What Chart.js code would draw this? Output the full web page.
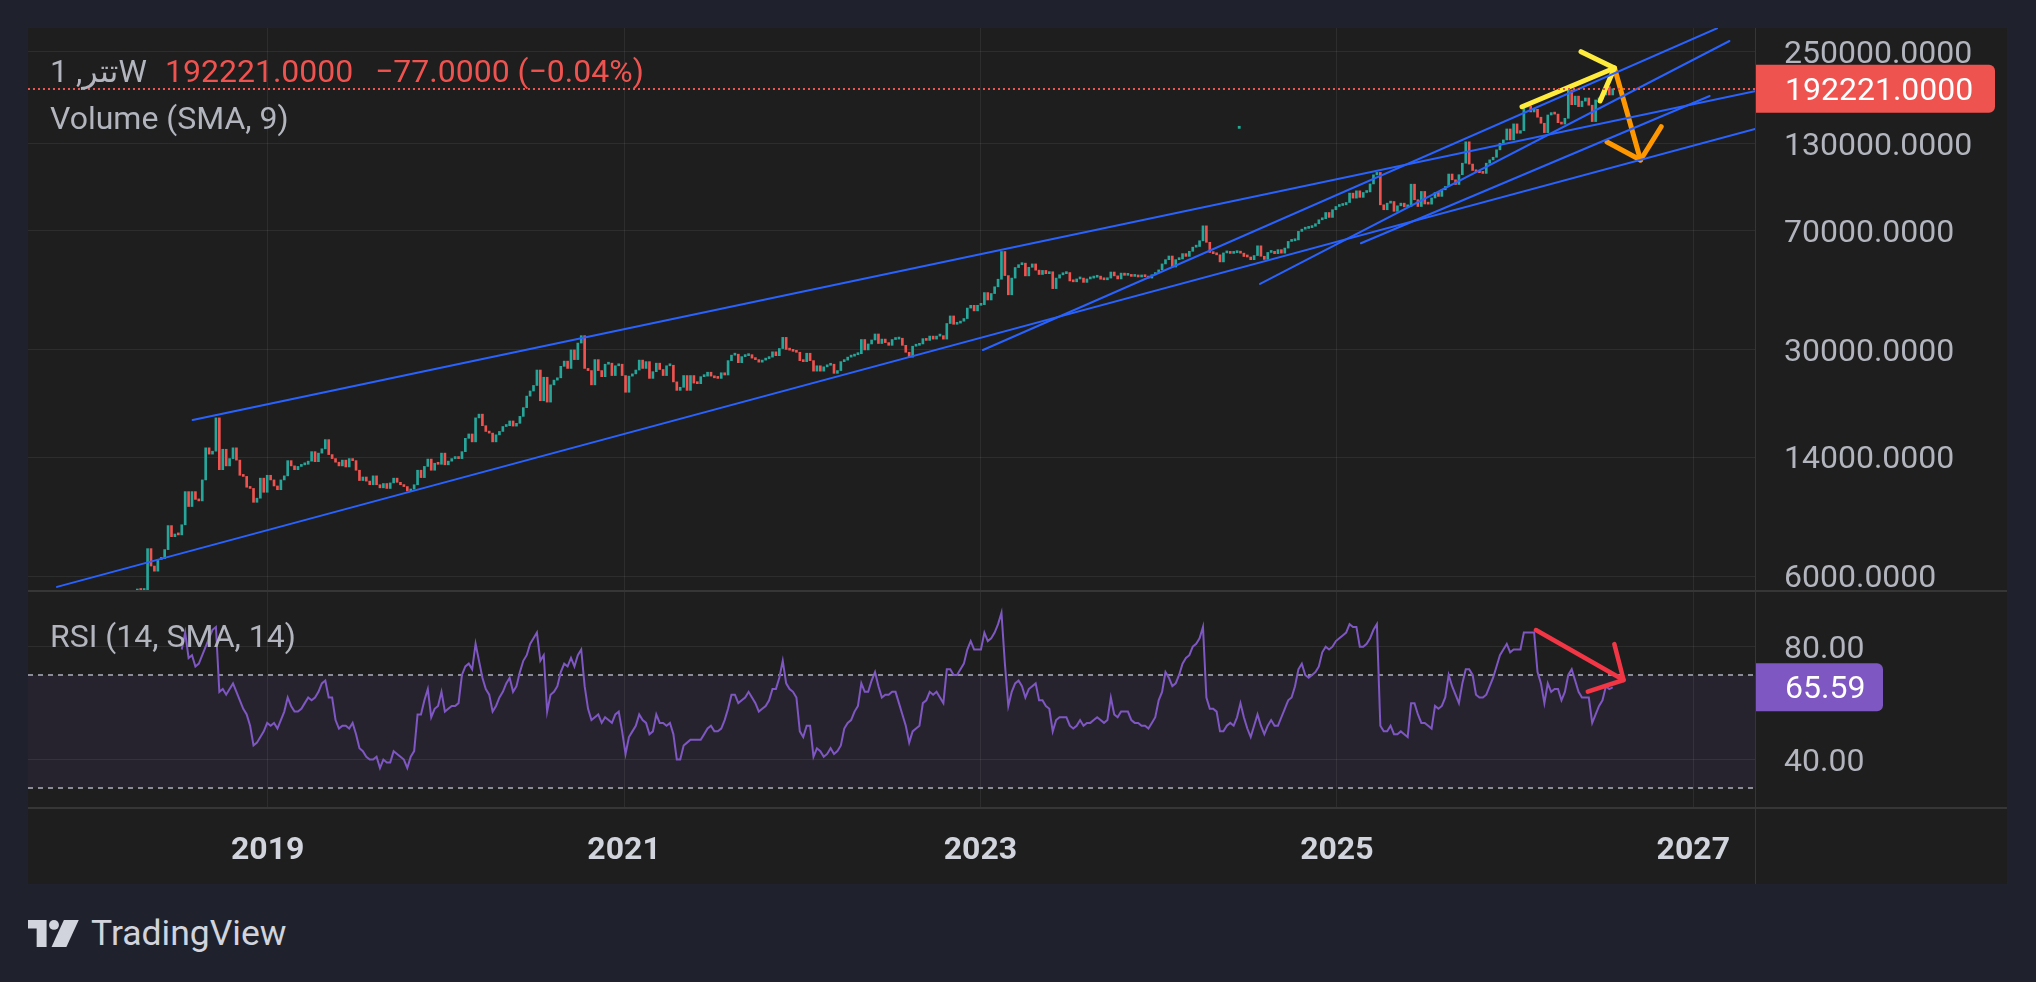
<!DOCTYPE html>
<html>
<head>
<meta charset="utf-8">
<title>تتر, 1W</title>
<script src="https://cdn.jsdelivr.net/npm/chart.js@4.4.1/dist/chart.umd.min.js"></script>
<style>
  html, body { margin: 0; padding: 0; }
  body { width: 2036px; height: 982px; background: #1f222d; overflow: hidden; position: relative; font-family: Roboto, "DejaVu Sans", sans-serif; }
  #panel { position: absolute; left: 28px; top: 28px; width: 1979px; height: 856px; background: #1e1e1e; }
  #mainChart { position: absolute; left: 0; top: 0; }
  #rsiChart { position: absolute; left: 0; top: 563px; }
  .sep { position: absolute; background: #363636; }
  .label { position: absolute; font-size: 32px; line-height: 38px; white-space: nowrap; color: #b2b5be; }
  .down { color: #ef5350; }
  #brand { position: absolute; left: 28px; top: 913px; height: 40px; display: flex; align-items: center; gap: 11px; color: #d1d4dc; font-size: 35.5px; line-height: 40px; }
</style>
</head>
<body>
<div id="panel">
  <canvas id="mainChart" width="1979" height="563"></canvas>
  <canvas id="rsiChart" width="1979" height="293"></canvas>
  <div class="sep" style="left:0;top:562px;width:1979px;height:2px"></div>
  <div class="sep" style="left:0;top:779px;width:1979px;height:2px"></div>
  <div class="sep" style="left:1727px;top:0;width:1px;height:856px"></div>
  <div class="label" style="left:22px;top:24px">تتر, 1W</div>
  <div class="label down" style="left:137px;top:24px" id="lastPrice"></div>
  <div class="label down" style="left:347px;top:24px" id="lastChange"></div>
  <div class="label" style="left:22px;top:71px">Volume (SMA, 9)</div>
  <div class="label" style="left:22px;top:589px">RSI (14, SMA, 14)</div>
</div>
<div id="brand">
  <svg width="52" height="27" viewBox="0 0 42 22" preserveAspectRatio="none">
    <path d="M0 0H15V22H7V7H0Z" fill="#d1d4dc"/>
    <circle cx="21" cy="4" r="4" fill="#d1d4dc"/>
    <path d="M29 0H41L31 22H19Z" fill="#d1d4dc"/>
  </svg>
  <span>TradingView</span>
</div>

<script>
// weekly closes, first bar in the week of 9 April 2018
const firstWeekUTC = Date.UTC(2018, 3, 9);
const firstOpen = 5400;
const closes = [
  5450, 5420, 5430, 7300, 6450, 6220, 6760, 6800, 7250, 8600,
  7950, 8100, 8050, 8650, 10950, 9850, 10950, 10360, 10250, 11900,
  14950, 14300, 14600, 18500, 12800, 14800, 13150, 13850, 14950, 13700,
  12300, 12200, 11300, 11200, 10150, 10450, 12050, 10900, 12300, 11900,
  11400, 11100, 11900, 12250, 13650, 13150, 12800, 13100, 13250, 13300,
  13600, 14550, 13550, 14400, 14850, 15850, 14250, 13850, 13500, 13150,
  13700, 13050, 13850, 13650, 12750, 11850, 12150, 11800, 11500, 12250,
  11500, 11250, 11600, 11200, 11650, 12050, 11700, 11500, 11350, 11000,
  11150, 11500, 12750, 12100, 13100, 13800, 12750, 13400, 13300, 14400,
  13250, 13600, 13850, 14000, 13850, 14550, 16000, 16500, 15600, 18500,
  19000, 17500, 16800, 16600, 15600, 16400, 16800, 17400, 17500, 18100,
  17450, 17800, 18700, 19900, 21600, 22400, 23300, 26000, 20900, 24700,
  20700, 23400, 24200, 24600, 26700, 27700, 26300, 30000, 28000, 31500,
  33200, 26300, 25900, 23400, 28000, 25900, 24800, 27100, 27300, 25000,
  26800, 27100, 25000, 22200, 24900, 25300, 26000, 27900, 26300, 27600,
  24500, 25700, 27300, 26100, 25000, 26800, 26900, 23900, 22500, 23000,
  25000, 22500, 25000, 23700, 23600, 24800, 24900, 25600, 24900, 24600,
  24500, 25500, 25100, 27800, 28900, 29100, 27400, 28600, 28800, 29000,
  28300, 28000, 27500, 27900, 28200, 28500, 29600, 28800, 30300, 32800,
  30100, 29950, 29700, 29500, 27800, 27600, 29300, 27800, 25800, 26800,
  25800, 26600, 26900, 27100, 25400, 25900, 27600, 27900, 28500, 28700,
  29000, 29200, 32300, 30000, 31300, 32200, 33600, 31400, 32400, 31600,
  31000, 32300, 32400, 32600, 31000, 29500, 28500, 30800, 31000, 31300,
  32500, 32100, 33100, 32400, 33100, 33200, 32400, 36200, 38200, 36000,
  36300, 36800, 37500, 40400, 41200, 39600, 41200, 41400, 45100, 42800,
  44800, 47000, 49600, 60400, 50900, 44400, 50000, 53900, 55000, 55600,
  50800, 54000, 55300, 52900, 51300, 52800, 51600, 52300, 46400, 50000,
  51200, 51600, 52000, 49000, 48700, 49700, 50000, 48500, 49700, 50000,
  50300, 50700, 49600, 49400, 50000, 52200, 50800, 49700, 51800, 51000,
  51300, 50600, 51000, 50400, 50700, 50500, 50000, 51200, 52000, 53000,
  55300, 57000, 58500, 54100, 57000, 57300, 59500, 58350, 60500, 62300,
  62600, 65200, 72500, 64500, 60000, 59500, 59000, 56100, 59800, 60200,
  59600, 59900, 60300, 59700, 58300, 58100, 57000, 58700, 62900, 58400,
  57100, 60000, 60500, 59500, 61200, 59700, 61900, 64900, 65200, 65600,
  69700, 70800, 71200, 71600, 72300, 73600, 75700, 76300, 79700, 77000,
  81300, 83200, 83800, 84200, 85600, 91500, 88300, 93000, 88800, 91900,
  92300, 97700, 104200, 106000, 84200, 81300, 85200, 86200, 80400, 83600,
  85200, 83000, 83300, 97500, 87300, 83200, 92600, 84700, 84600, 88400,
  91900, 89400, 93700, 95900, 104800, 100600, 97300, 104300, 113200, 131800,
  112500, 107500, 106500, 105800, 105300, 113200, 115900, 118100, 124500, 130500,
  133600, 144400, 133600, 149700, 140100, 142700, 168900, 170000, 163000, 166100,
  157000, 150400, 140700, 159500, 162200, 160500, 151000, 149500, 155800, 190500,
  171600, 182400, 169300, 176000, 180000, 171000, 152200, 177500, 178500, 183900,
  195100, 183900, 192221
];

// RSI (14) per week
const rsiValues = [
  null, null, null, null, null, null, null, null, null, null, null, null, null,
  79, 85, 76, 77, 73, 74, 77,
  80, 83, 86, 87, 64, 65, 63, 65, 67, 64,
  61, 58, 56, 52, 45, 46, 48, 50, 53, 52,
  53, 51, 54, 57, 62, 59, 57, 57, 58, 60,
  62, 61, 62, 64, 67, 68, 62, 62, 54, 51,
  52, 52, 51, 53, 49, 44, 43, 41, 40, 40,
  41, 37, 40, 39, 39, 43, 42, 41, 40, 37,
  41, 43, 56, 56, 61, 65, 55, 58, 59, 64,
  57, 58, 59, 59, 60, 70, 73, 74, 72, 81,
  75, 69, 65, 63, 57, 59, 62, 64, 67, 69,
  64, 66, 71, 75, 77, 81, 83, 85, 75, 77,
  57, 63, 64, 66, 71, 74, 73, 76, 73, 77,
  79, 66, 58, 54, 55, 56, 53, 55, 54, 53,
  56, 57, 50, 42, 48, 50, 52, 56, 54, 53,
  49, 50, 56, 53, 53, 52, 53, 49, 40, 40,
  45, 46, 47, 47, 47, 47, 49, 51, 52, 50,
  50, 51, 54, 58, 63, 63, 60, 61, 62, 64,
  62, 60, 57, 58, 59, 61, 65, 65, 69, 75,
  67, 65, 64, 62, 50, 48, 52, 52, 41, 44,
  43, 41, 42, 44, 42, 43, 45, 51, 53, 54,
  57, 59, 67, 64, 64, 68, 71, 66, 62, 63,
  63, 64, 64, 60, 56, 52, 46, 50, 51, 52,
  60, 61, 64, 63, 64, 62, 60, 72, 72, 70,
  70, 72, 74, 79, 82, 79, 79, 79, 85, 82,
  83, 85, 88, 92, 74, 59, 64, 67, 68, 66,
  62, 65, 66, 67, 61, 61, 59, 58, 50, 54,
  55, 55, 55, 52, 51, 52, 54, 52, 53, 53,
  54, 55, 54, 53, 54, 62, 56, 55, 57, 57,
  57, 54, 53, 53, 52, 52, 51, 53, 55, 61,
  64, 71, 69, 66, 67, 70, 74, 76, 77, 80,
  81, 83, 87, 62, 58, 58, 57, 50, 50, 52,
  53, 52, 55, 60, 55, 51, 48, 52, 56, 52,
  49, 52, 54, 52, 52, 55, 58, 61, 62, 66,
  72, 74, 70, 69, 70, 71, 73, 78, 80, 79,
  80, 82, 83, 84, 85, 88, 87, 87, 80, 80,
  81, 83, 86, 88, 52, 50, 50, 52, 49, 49,
  50, 49, 48, 60, 60, 56, 53, 53, 52, 51,
  59, 58, 59, 62, 70, 66, 63, 60, 67, 72,
  72, 70, 63, 62, 62, 63, 66, 69, 73, 77,
  79, 81, 78, 79, 79, 79, 85, 85, 85, 85,
  71, 67, 60, 67, 64, 65, 65, 61, 64, 70,
  72, 68, 64, 62, 62, 62, 53, 56, 59, 61,
  66, 65, 65.59
];

const priceTicks = [6000, 14000, 30000, 70000, 130000, 250000];
const rsiTicks = [40, 80];
const yearTicks = [2019, 2021, 2023, 2025, 2027];
const lastChange = -77;
const lastChangePct = -0.04;

// hand drawn lines on the chart, [decimal year, value]
const trendLines = [
  [[2017.818, 5561], [2027.352, 144780]],
  [[2018.579, 18220], [2027.352, 189300]],
  [[2023.014, 29980], [2027.133, 295470]],
  [[2024.569, 47960], [2027.203, 269950]],
  [[2025.135, 64050], [2027.092, 182560]]
];
const yellowShaft = [[2026.039, 169200], [2026.558, 222800]];
const yellowHead = [[2026.37, 250200], [2026.558, 222800], [2026.477, 176200]];
const orangeShaft = [[2026.558, 222800], [2026.704, 115800]];
const orangeHead = [[2026.516, 131600], [2026.704, 115800], [2026.82, 146750]];
const rsiShaft = [[2026.117, 85.9], [2026.609, 68.2]];
const rsiHead = [[2026.557, 80.9], [2026.609, 68.2], [2026.408, 64.1]];
const strayDot = [[2024.452, 146100]];

const UP = '#26a69a';
const DOWN = '#ef5350';
const BLUE = '#2962ff';
const GRID = 'rgba(255,255,255,0.065)';
const AXIS_TEXT = '#b2b5be';

const WEEK_MS = 7 * 86400000;
function toYear(ms) {
  const y = new Date(ms).getUTCFullYear();
  const a = Date.UTC(y, 0, 1), b = Date.UTC(y + 1, 0, 1);
  return y + (ms - a) / (b - a);
}
const weeks = closes.map((_, i) => toYear(firstWeekUTC + i * WEEK_MS));
const opens = closes.map((c, i) => (i ? closes[i - 1] : firstOpen));
const candles = closes.map((c, i) => ({ x: weeks[i], y: [opens[i], c] }));
const candleColors = closes.map((c, i) => (c >= opens[i] ? UP : DOWN));
const rsiPoints = rsiValues.map((v, i) => ({ x: weeks[i], y: v }));
const lastClose = closes[closes.length - 1];
const lastRsi = rsiValues[rsiValues.length - 1];

const minus = '\u2212';
document.getElementById('lastPrice').textContent = lastClose.toFixed(4);
document.getElementById('lastChange').textContent =
  (lastChange < 0 ? minus : '+') + Math.abs(lastChange).toFixed(4) +
  ' (' + (lastChangePct < 0 ? minus : '+') + Math.abs(lastChangePct).toFixed(2) + '%)';

Chart.defaults.font.family = 'Roboto';

function lineDs(points, color, width) {
  return {
    type: 'line',
    data: points.map(([x, y]) => ({ x, y })),
    borderColor: color,
    borderWidth: width,
    pointRadius: 0,
    tension: 0,
    fill: false,
    clip: 0,
    borderCapStyle: 'round',
    borderJoinStyle: 'round',
    order: 1
  };
}

const xMin = 2017.655, xMax = 2027.352;
const axisWidth = 251;

function xScale(showLabels) {
  return {
    type: 'linear',
    min: xMin,
    max: xMax,
    offset: false,
    afterBuildTicks: (s) => { s.ticks = yearTicks.map((v) => ({ value: v })); },
    afterFit: (s) => {
      s.height = showLabels ? 76 : 0;
      s.paddingLeft = 0; s.paddingRight = 0; s.paddingTop = 0; s.paddingBottom = 0;
    },
    grid: { color: GRID, drawTicks: false, offset: false },
    border: { display: false },
    ticks: {
      display: showLabels,
      autoSkip: false,
      maxRotation: 0,
      padding: 24,
      color: '#d1d4dc',
      font: { size: 32, weight: 'bold' },
      callback: (v) => String(v)
    }
  };
}

function yScale(extra) {
  return Object.assign({
    position: 'right',
    afterFit: (s) => {
      s.width = axisWidth;
      s.paddingTop = 0; s.paddingBottom = 0; s.paddingLeft = 0; s.paddingRight = 0;
    },
    grid: { color: GRID, drawTicks: false },
    border: { display: false }
  }, extra);
}

function axisTag(ctx, x, y, w, h, fill, text) {
  ctx.save();
  ctx.fillStyle = fill;
  ctx.beginPath();
  if (ctx.roundRect) ctx.roundRect(x, y - h / 2, w, h, [0, 6, 6, 0]);
  else ctx.rect(x, y - h / 2, w, h);
  ctx.fill();
  ctx.fillStyle = '#ffffff';
  ctx.font = '32px Roboto';
  ctx.textBaseline = 'middle';
  ctx.textAlign = 'left';
  ctx.fillText(text, x + 29, y + 3);
  ctx.restore();
}

const priceLinePlugin = {
  id: 'priceLine',
  afterDatasetsDraw(chart) {
    const { ctx, chartArea, scales } = chart;
    const y = Math.round(scales.y.getPixelForValue(lastClose));
    ctx.save();
    ctx.strokeStyle = DOWN;
    ctx.lineWidth = 2;
    ctx.setLineDash([2, 3]);
    ctx.beginPath();
    ctx.moveTo(chartArea.left, y);
    ctx.lineTo(chartArea.right, y);
    ctx.stroke();
    ctx.restore();
  },
  afterDraw(chart) {
    const y = chart.scales.y.getPixelForValue(lastClose);
    axisTag(chart.ctx, chart.chartArea.right, y, 239, 48, DOWN, lastClose.toFixed(4));
  }
};

const rsiBandPlugin = {
  id: 'rsiBand',
  beforeDraw(chart) {
    const { ctx, chartArea, scales } = chart;
    const y70 = scales.y.getPixelForValue(70);
    const y30 = scales.y.getPixelForValue(30);
    ctx.save();
    ctx.fillStyle = 'rgba(126,87,194,0.1)';
    ctx.fillRect(chartArea.left, y70, chartArea.right - chartArea.left, y30 - y70);
    ctx.restore();
  },
  beforeDatasetsDraw(chart) {
    const { ctx, chartArea, scales } = chart;
    ctx.save();
    ctx.strokeStyle = '#8a8d96';
    ctx.lineWidth = 2;
    ctx.setLineDash([5, 5]);
    [70, 30].forEach((v) => {
      const y = Math.round(scales.y.getPixelForValue(v));
      ctx.beginPath();
      ctx.moveTo(chartArea.left, y);
      ctx.lineTo(chartArea.right, y);
      ctx.stroke();
    });
    ctx.restore();
  },
  afterDraw(chart) {
    const y = chart.scales.y.getPixelForValue(lastRsi);
    axisTag(chart.ctx, chart.chartArea.right, y, 127, 48, '#7e57c2', lastRsi.toFixed(2));
  }
};

const common = {
  responsive: false,
  animation: false,
  events: [],
  layout: { padding: 0, autoPadding: false },
  plugins: { legend: { display: false }, tooltip: { enabled: false } }
};

// price pane
new Chart(document.getElementById('mainChart'), {
  type: 'line',
  data: {
    datasets: [
      {
        type: 'bar',
        data: candles,
        backgroundColor: candleColors,
        borderWidth: 0,
        barThickness: 2,
        minBarLength: 2,
        order: 10
      },
      ...trendLines.map((l) => lineDs(l, BLUE, 2)),
      lineDs(yellowShaft, '#ffeb3b', 5),
      lineDs(yellowHead, '#ffeb3b', 5),
      lineDs(orangeShaft, '#ff9800', 5),
      lineDs(orangeHead, '#ff9800', 5),
      {
        type: 'line',
        data: strayDot.map(([x, y]) => ({ x, y })),
        showLine: false,
        pointRadius: 2,
        pointStyle: 'rect',
        pointBackgroundColor: '#22ab94',
        pointBorderWidth: 0,
        order: 2
      }
    ]
  },
  options: Object.assign({}, common, {
    scales: {
      x: xScale(false),
      y: yScale({
        type: 'logarithmic',
        min: 5401,
        max: 296110,
        afterBuildTicks: (s) => { s.ticks = priceTicks.map((v) => ({ value: v })); },
        ticks: {
          autoSkip: false, padding: 28, labelOffset: 3, color: AXIS_TEXT, font: { size: 32 },
          callback: (v) => Number(v).toFixed(4)
        }
      })
    }
  }),
  plugins: [priceLinePlugin]
});

// RSI pane + time axis
new Chart(document.getElementById('rsiChart'), {
  type: 'line',
  data: {
    datasets: [
      {
        data: rsiPoints,
        borderColor: '#7e57c2',
        borderWidth: 2,
        pointRadius: 0,
        tension: 0,
        fill: false,
        order: 5
      },
      lineDs(rsiShaft, '#f23645', 4.5),
      lineDs(rsiHead, '#f23645', 4.5)
    ]
  },
  options: Object.assign({}, common, {
    scales: {
      x: xScale(true),
      y: yScale({
        type: 'linear',
        min: 22.84,
        max: 99.74,
        afterBuildTicks: (s) => { s.ticks = rsiTicks.map((v) => ({ value: v })); },
        ticks: {
          autoSkip: false, padding: 28, labelOffset: 3, color: AXIS_TEXT, font: { size: 32 },
          callback: (v) => Number(v).toFixed(2)
        }
      })
    }
  }),
  plugins: [rsiBandPlugin]
});
</script>
</body>
</html>
